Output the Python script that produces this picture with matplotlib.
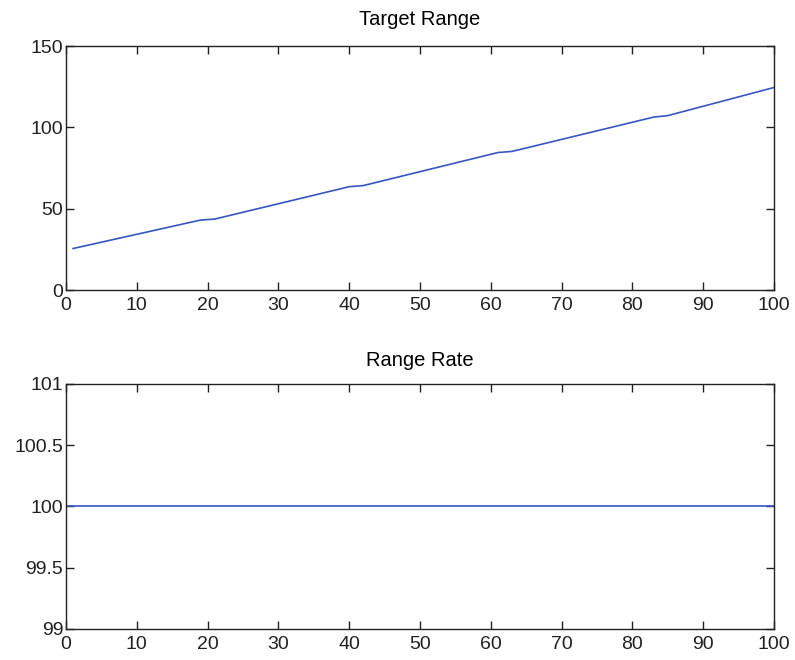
import matplotlib
matplotlib.use("Agg")
import matplotlib.pyplot as plt

# Data
range_x = [1, 19, 21, 40, 42, 61, 63, 83, 85, 100]
range_y = [25.5, 43, 43.6, 63.5, 64.2, 84.5, 85.2, 106.3, 107.2, 124.5]
rate_x = [0, 100]
rate_y = [100, 100]

top_yticks = [0, 50, 100, 150]
bot_yticks = [99, 99.5, 100, 100.5, 101]
bot_yticklabels = ["99", "99.5", "100", "100.5", "101"]
xticks = list(range(0, 101, 10))

plt.rcParams['font.family'] = ['Liberation Sans', 'DejaVu Sans']

fig = plt.figure(figsize=(7.95, 6.6), dpi=100)
ax1 = fig.add_axes([0.083, 0.5606, 0.8906, 0.3697])
ax2 = fig.add_axes([0.083, 0.047, 0.8906, 0.3712])

line_color = '#3556c6'
tick_fs = 14
title_fs = 14.5

ax1.plot(range_x, range_y, color=line_color, lw=1.2)
ax1.set_xlim(0, 100)
ax1.set_ylim(0, 150)
ax1.set_yticks(top_yticks)
ax1.set_xticks(xticks)
ax1.set_title("Target Range", fontsize=title_fs, pad=15)

ax2.plot(rate_x, rate_y, color=line_color, lw=1.2)
ax2.set_xlim(0, 100)
ax2.set_ylim(99, 101)
ax2.set_yticks(bot_yticks)
ax2.set_yticklabels(bot_yticklabels)
ax2.set_xticks(xticks)
ax2.set_title("Range Rate", fontsize=title_fs, pad=13)

for ax in (ax1, ax2):
    ax.tick_params(direction='in', length=6, width=1, top=True, right=True,
                   labelsize=tick_fs, pad=2, color='#222222', labelcolor='#222222')
    ax.tick_params(axis='x', pad=5)
    for s in ax.spines.values():
        s.set_linewidth(1.0)
        s.set_color('#222222')

fig.savefig("out.png", dpi=100)
